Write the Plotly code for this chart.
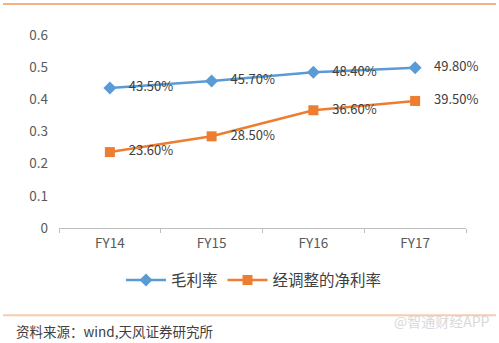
import plotly.graph_objects as go

categories = ["FY14", "FY15", "FY16", "FY17"]
gross_margin = [0.435, 0.457, 0.484, 0.498]
adj_net_margin = [0.236, 0.285, 0.366, 0.395]
series_names = ["毛利率", "经调整的净利率"]
y_ticks = [0, 0.1, 0.2, 0.3, 0.4, 0.5, 0.6]
y_tick_text = ["0", "0.1", "0.2", "0.3", "0.4", "0.5", "0.6"]
source_text = "资料来源：wind,天风证券研究所"
watermark_text = "@智通财经APP"

FONT = "Noto Sans CJK SC, Liberation Sans, sans-serif"
BLUE = "#5B9BD5"
ORANGE = "#ED7D31"
TXT = "#404040"

def labels(vals):
    return ["    " + f"{v*100:.2f}%" for v in vals]

fig = go.Figure()
fig.add_trace(go.Scatter(
    x=categories, y=gross_margin, name=series_names[0],
    mode="lines+markers+text", text=labels(gross_margin), cliponaxis=False,
    textposition="middle right", textfont=dict(size=13, color=TXT, family=FONT),
    line=dict(color=BLUE, width=2.5),
    marker=dict(symbol="diamond", size=10, color=BLUE),
))
fig.add_trace(go.Scatter(
    x=categories, y=adj_net_margin, name=series_names[1],
    mode="lines+markers+text", text=labels(adj_net_margin), cliponaxis=False,
    textposition="middle right", textfont=dict(size=13, color=TXT, family=FONT),
    line=dict(color=ORANGE, width=2.5),
    marker=dict(symbol="square", size=10, color=ORANGE),
))

L, R, T, B = 59, 33, 35, 114.5
H = 343 - T - B
W = 499 - L - R

def px(x):
    return (x - L) / W

def py(y):
    return (343 - B - y) / H

fig.update_layout(
    width=499, height=343,
    margin=dict(l=L, r=R, t=T, b=B),
    paper_bgcolor="white", plot_bgcolor="white",
    font=dict(family=FONT, size=13, color=TXT),
    showlegend=True,
    legend=dict(orientation="h", x=px(254), xanchor="center", y=py(281), yanchor="middle",
                font=dict(size=15.5, color=TXT, family=FONT), itemwidth=40,
                bgcolor="rgba(0,0,0,0)", traceorder="normal", tracegroupgap=0),
    xaxis=dict(type="category", range=[-0.5, 3.5], showline=True, linecolor="#BFBFBF",
               linewidth=1, ticks="outside", tickson="boundaries", ticklen=4,
               tickcolor="#BFBFBF", showgrid=False, zeroline=False, ticklabelstandoff=3,
               tickfont=dict(size=13.5, color="#595959")),
    yaxis=dict(range=[0, 0.6], tickvals=y_ticks, ticktext=y_tick_text, showline=False,
               showgrid=False, zeroline=False, ticks="", ticklabelstandoff=10,
               tickfont=dict(size=13.5, color="#595959")),
    shapes=[
        dict(type="line", xref="paper", yref="paper", x0=px(3), x1=px(496), y0=py(4), y1=py(4),
             line=dict(color="#F4B183", width=2)),
        dict(type="line", xref="paper", yref="paper", x0=px(3), x1=px(496), y0=py(316), y1=py(316),
             line=dict(color="#F8CBAD", width=2)),
    ],
    annotations=[
        dict(text=source_text, xref="paper", yref="paper", x=px(14), y=py(332),
             xanchor="left", yanchor="middle", showarrow=False,
             font=dict(size=13.5, color=TXT, family=FONT)),
        dict(text=watermark_text, xref="paper", yref="paper", x=px(492), y=py(322),
             xanchor="right", yanchor="middle", showarrow=False,
             font=dict(size=14, color="#D9D9D9", family=FONT)),
    ],
)

fig.write_html("out.html")
